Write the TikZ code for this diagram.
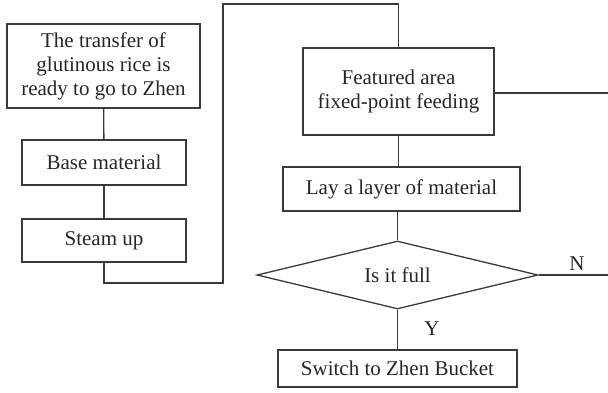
\documentclass[tikz,border=0pt]{standalone}
\usepackage{fontspec}
\setmainfont{Liberation Serif}
\usetikzlibrary{positioning, shapes.geometric}
\definecolor{linegray}{HTML}{3A3A3A}
\tikzset{
  x=1pt, y=-1pt,
  every node/.style={
      font=\fontsize{21}{24}\selectfont,
      text=black!85
    },
  step box/.style={
      rectangle,
      draw=linegray,
      line width=1.3pt,
      inner sep=0pt,
      align=center
    },
  check/.style={
      diamond,
      draw=linegray,
      line width=1.3pt,
      inner sep=0pt,
      aspect=4,
      minimum width=281pt,
      minimum height=68pt
    },
  link/.style={
      draw=linegray,
      line width=1.3pt
    }
}

\begin{document}
\begin{tikzpicture}
  \useasboundingbox (0,0) rectangle (608,392);
  % left column
  \node[step box, minimum width=193pt, minimum height=84pt] (transfer) at (103.5,66)
    {The transfer of\\glutinous rice is\\ready to go to Zhen};
  \node[step box, minimum width=164pt, minimum height=45pt] (base) at (104,162.5) {Base material};
  \node[step box, minimum width=164pt, minimum height=43pt] (steam) at (104,240.5) {Steam up};
  % right column
  \node[step box, minimum width=191pt, minimum height=87pt] (feed) at (398.5,91.5)
    {Featured area\\fixed-point feeding};
  \node[step box, minimum width=237pt, minimum height=44pt] (lay) at (401.5,189) {Lay a layer of material};
  \node[check] (full) at (397.5,275) {Is it full};
  \node[step box, minimum width=239pt, minimum height=37pt] (bucket) at (397.5,368.5) {Switch to Zhen Bucket};
  \node (no) at (577,264) {N};
  \node (yes) at (432,329) {Y};
  % bends and loose ends
  \coordinate (bend) at (223,283);
  \coordinate (peak) at (398.5,4);
  \coordinate (feedout) at (608,93);
  \coordinate (fullout) at (608,275);
  \draw[link] (transfer) -- (base);
  \draw[link] (base) -- (steam);
  \draw[link] (steam.south) |- (bend) |- (peak) -- (feed.north);
  \draw[link] (feed.east |- feedout) -- (feedout);
  \draw[link] (feed.south) -- (feed.south |- lay.north);
  \draw[link] (full.north |- lay.south) -- (full.north);
  \draw[link] (full.east) -- (fullout);
  \draw[link] (full.south) -- (bucket.north);
\end{tikzpicture}
\end{document}
